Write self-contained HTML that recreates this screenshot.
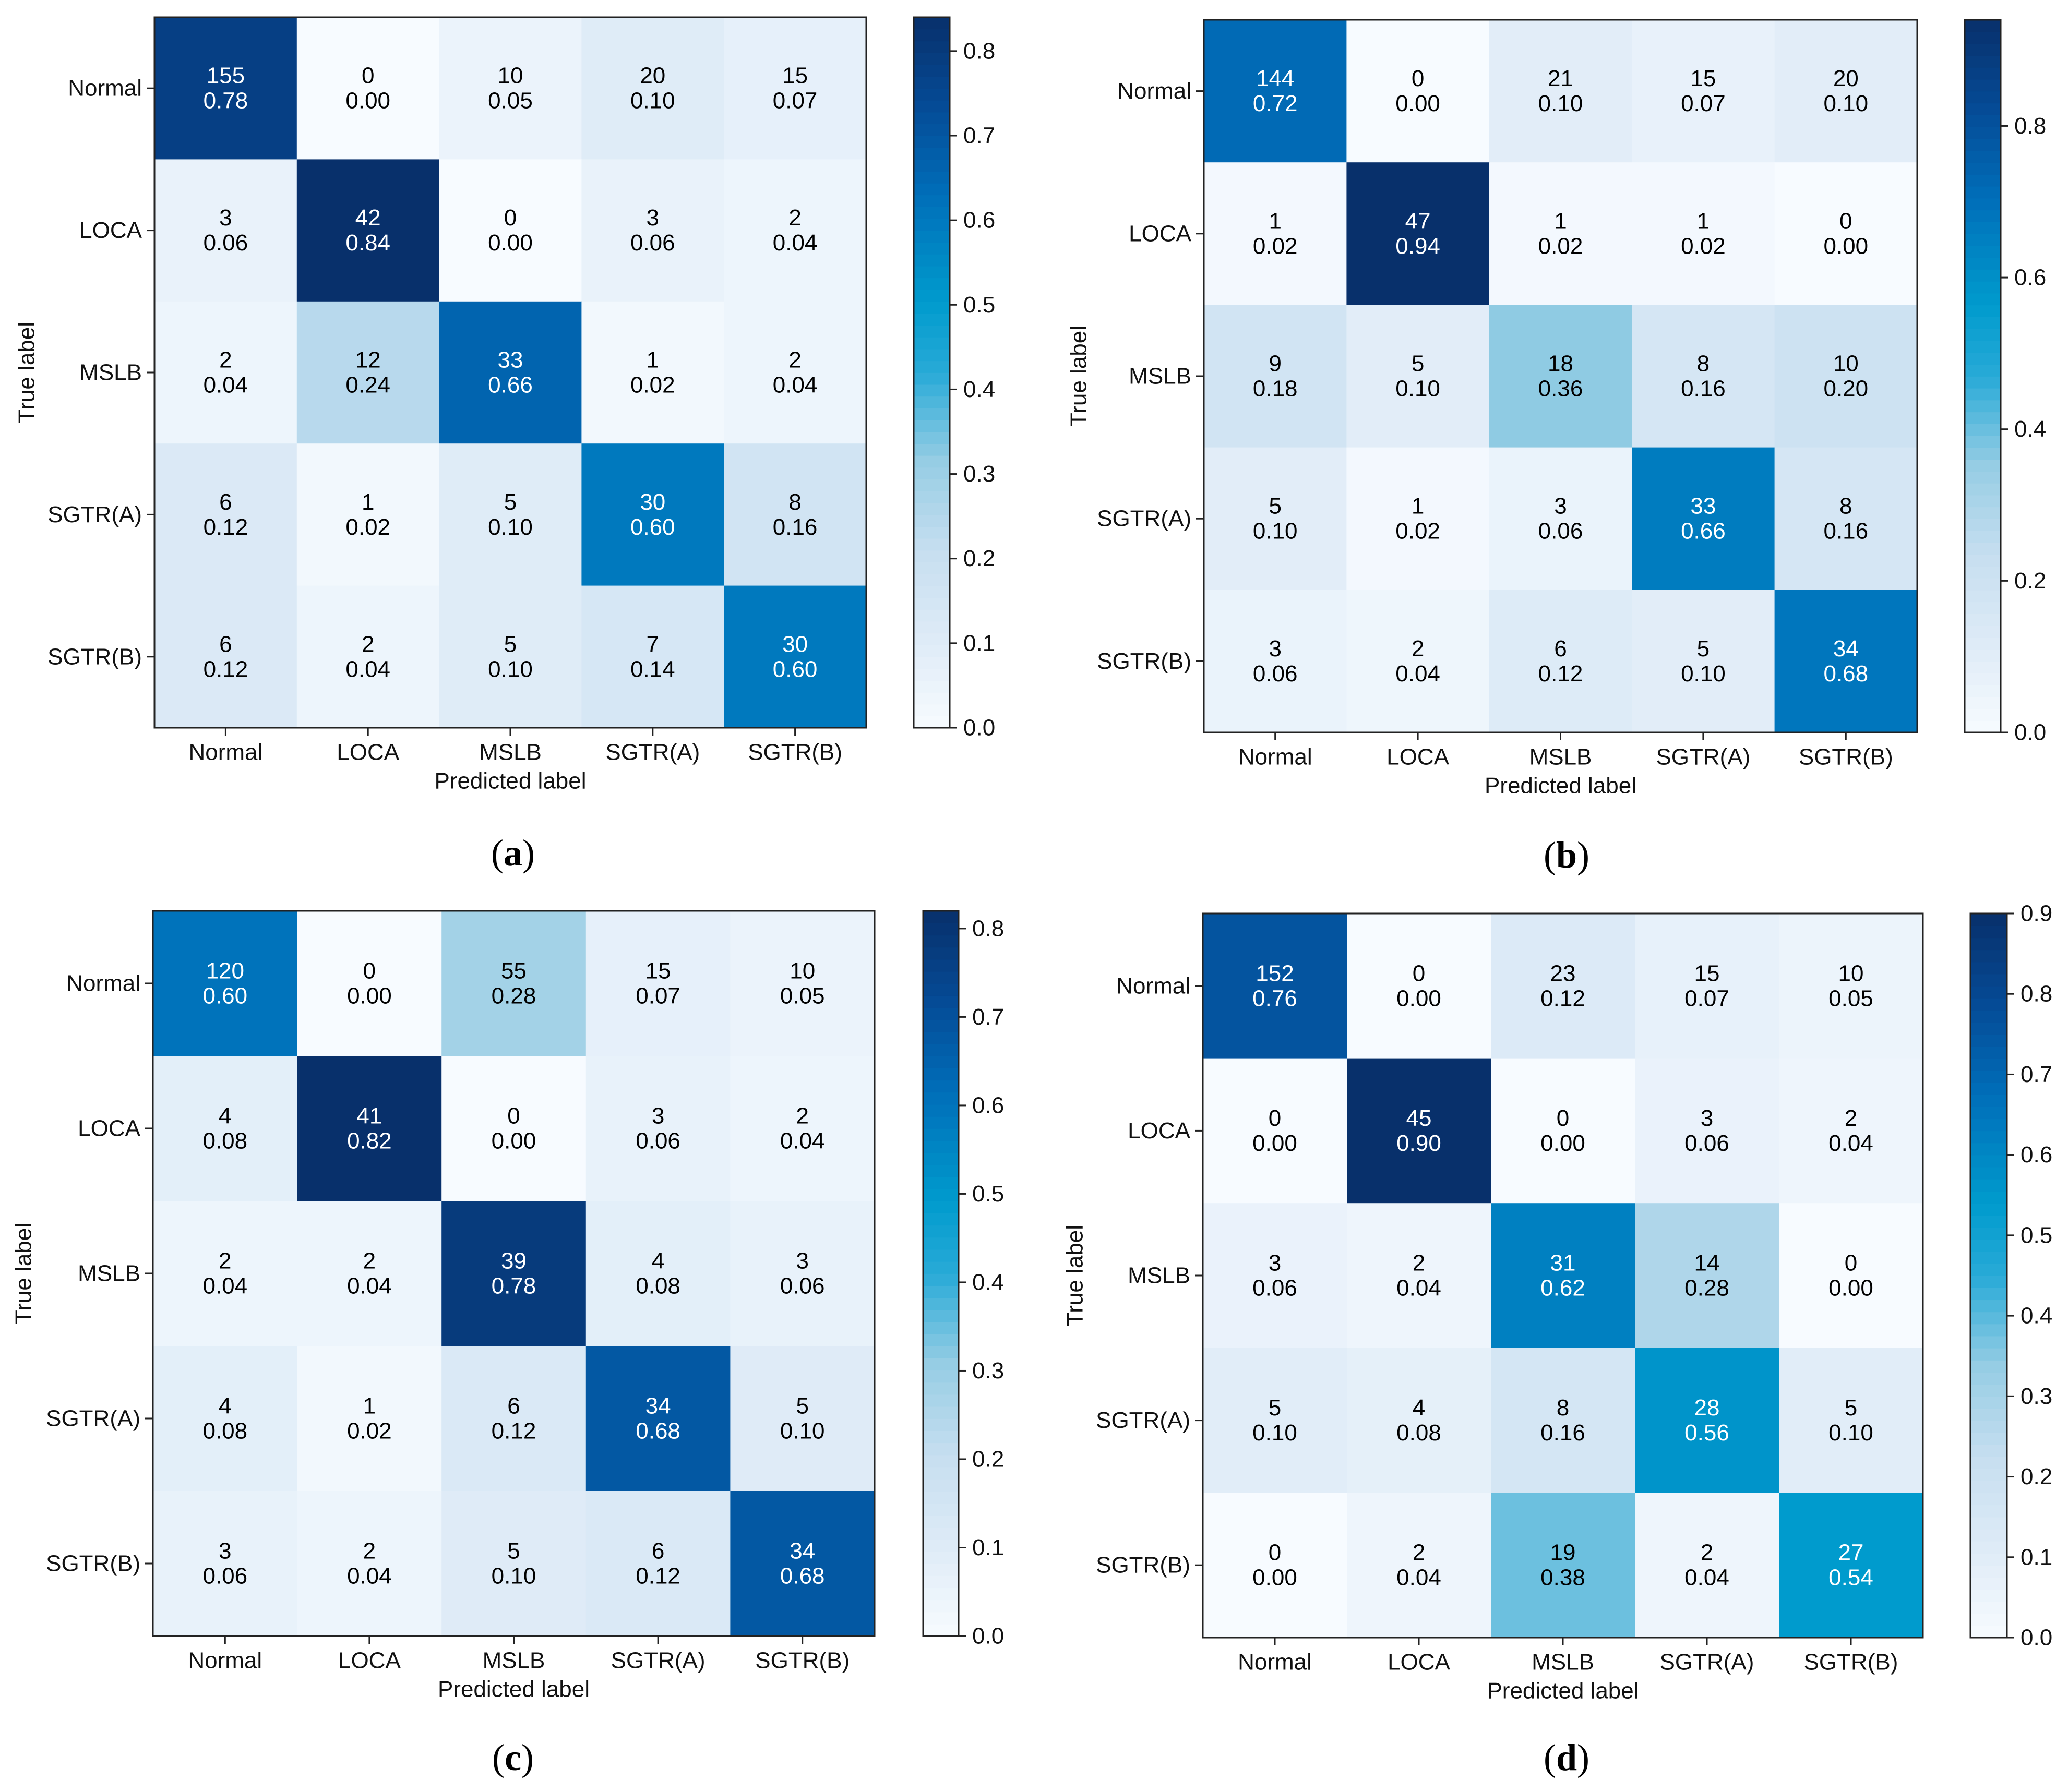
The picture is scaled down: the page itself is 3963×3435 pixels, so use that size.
<!DOCTYPE html>
<html><head><meta charset="utf-8"><style>
html,body{margin:0;padding:0;background:#fff;}
svg{display:block;}
text{font-family:"Liberation Sans","DejaVu Sans",sans-serif;}
</style></head>
<body>
<svg id="fig" width="3963" height="3435" viewBox="0 0 3963 3435" xmlns="http://www.w3.org/2000/svg"></svg>
<script>
const classes = ["Normal","LOCA","MSLB","SGTR(A)","SGTR(B)"];
const countsA = [[155,0,10,20,15],[3,42,0,3,2],[2,12,33,1,2],[6,1,5,30,8],[6,2,5,7,30]];
const fracsA  = [[0.78,0.00,0.05,0.10,0.07],[0.06,0.84,0.00,0.06,0.04],[0.04,0.24,0.66,0.02,0.04],[0.12,0.02,0.10,0.60,0.16],[0.12,0.04,0.10,0.14,0.60]];
const countsB = [[144,0,21,15,20],[1,47,1,1,0],[9,5,18,8,10],[5,1,3,33,8],[3,2,6,5,34]];
const fracsB  = [[0.72,0.00,0.10,0.07,0.10],[0.02,0.94,0.02,0.02,0.00],[0.18,0.10,0.36,0.16,0.20],[0.10,0.02,0.06,0.66,0.16],[0.06,0.04,0.12,0.10,0.68]];
const countsC = [[120,0,55,15,10],[4,41,0,3,2],[2,2,39,4,3],[4,1,6,34,5],[3,2,5,6,34]];
const fracsC  = [[0.60,0.00,0.28,0.07,0.05],[0.08,0.82,0.00,0.06,0.04],[0.04,0.04,0.78,0.08,0.06],[0.08,0.02,0.12,0.68,0.10],[0.06,0.04,0.10,0.12,0.68]];
const countsD = [[152,0,23,15,10],[0,45,0,3,2],[3,2,31,14,0],[5,4,8,28,5],[0,2,19,2,27]];
const fracsD  = [[0.76,0.00,0.12,0.07,0.05],[0.00,0.90,0.00,0.06,0.04],[0.06,0.04,0.62,0.28,0.00],[0.10,0.08,0.16,0.56,0.10],[0.00,0.04,0.38,0.04,0.54]];
const ticksA = [0,0.1,0.2,0.3,0.4,0.5,0.6,0.7,0.8];
const ticksB = [0,0.2,0.4,0.6,0.8];
const ticksC = [0,0.1,0.2,0.3,0.4,0.5,0.6,0.7,0.8];
const ticksD = [0,0.1,0.2,0.3,0.4,0.5,0.6,0.7,0.8,0.9];

const NS="http://www.w3.org/2000/svg";
const svg=document.getElementById('fig');
const stops=[[0,[247,251,255]],[0.125,[222,235,247]],[0.25,[198,222,240]],[0.375,[150,205,228]],[0.5,[40,170,215]],[0.6,[0,155,205]],[0.75,[0,110,185]],[0.875,[5,75,150]],[1,[8,48,107]]];
function cmap(t){t=Math.max(0,Math.min(1,t));for(let i=1;i<stops.length;i++){if(t<=stops[i][0]){const a=stops[i-1],b=stops[i];const f=(t-a[0])/(b[0]-a[0]);const c=a[1].map((v,k)=>Math.round(v+(b[1][k]-v)*f));return `rgb(${c[0]},${c[1]},${c[2]})`;}}return 'rgb(8,48,107)';}
function mk(tag,attrs,parent){const e=document.createElementNS(NS,tag);for(const k in attrs)e.setAttribute(k,attrs[k]);(parent||svg).appendChild(e);return e;}

function panel(id,L,R,T,B,cbL,cbR,vmax,counts,fracs,ticks,ylabX,capX,capY,letter){
  const g=mk('g',{});
  
  
  const n=classes.length, cw=(R-L)/n, ch=(B-T)/n;
  const xs=i=>L+cw*(i+0.5), ys=j=>T+ch*(j+0.5);
  for(let r=0;r<n;r++)for(let c=0;c<n;c++){
    const v=fracs[r][c];
    const rect=mk('rect',{x:L+c*cw,y:T+r*ch,width:cw+0.6,height:ch+0.6,fill:cmap(v/vmax)},g);
    
    
    const col=v>vmax/2?'#fff':'#000';
    const t1=mk('text',{x:xs(c),y:ys(r)-24,'text-anchor':'middle','dominant-baseline':'central','font-size':44,fill:col},g);
    t1.textContent=counts[r][c];
    
    
    const t2=mk('text',{x:xs(c),y:ys(r)+24,'text-anchor':'middle','dominant-baseline':'central','font-size':44,fill:col},g);
    t2.textContent=v.toFixed(2);
    
    
  }
  const fr=mk('rect',{x:L,y:T,width:R-L,height:B-T,fill:'none',stroke:'#222','stroke-width':3},g);
  
  
  for(let i=0;i<n;i++){
    mk('line',{x1:xs(i),x2:xs(i),y1:B,y2:B+15,stroke:'#222','stroke-width':3},g);
    const xl=mk('text',{x:xs(i),y:B+47,'text-anchor':'middle','dominant-baseline':'central','font-size':44,fill:'#111'},g);
    xl.textContent=classes[i];
    
    
    mk('line',{x1:L-15,x2:L,y1:ys(i),y2:ys(i),stroke:'#222','stroke-width':3},g);
    const yl=mk('text',{x:L-24,y:ys(i),'text-anchor':'end','dominant-baseline':'central','font-size':44,fill:'#111'},g);
    yl.textContent=classes[i];
    
    
  }
  const xt=mk('text',{x:(L+R)/2,y:B+102,'text-anchor':'middle','dominant-baseline':'central','font-size':44,fill:'#111'},g);
  xt.textContent='Predicted label';
  
  
  const yt=mk('text',{x:ylabX,y:(T+B)/2,'text-anchor':'middle','dominant-baseline':'central','font-size':44,fill:'#111',transform:`rotate(-90 ${ylabX} ${(T+B)/2})`},g);
  yt.textContent='True label';
  
  
  const cbs=v=>B-(B-T)*v/vmax;
  const steps=60;
  for(let k=0;k<steps;k++){
    const v0=vmax*k/steps, v1=vmax*(k+1)/steps;
    mk('rect',{x:cbL,y:cbs(v1),width:cbR-cbL,height:cbs(v0)-cbs(v1)+0.8,fill:cmap((v0+v1)/2/vmax)},g);
  }
  const cbf=mk('rect',{x:cbL,y:T,width:cbR-cbL,height:B-T,fill:'none',stroke:'#222','stroke-width':3},g);
  
  
  ticks.forEach(tv=>{
    mk('line',{x1:cbR,x2:cbR+14,y1:cbs(tv),y2:cbs(tv),stroke:'#222','stroke-width':3},g);
    const tl=mk('text',{x:cbR+26,y:cbs(tv),'dominant-baseline':'central','font-size':44,fill:'#111'},g);
    tl.textContent=tv.toFixed(1);
    
    
  });
  const cap=mk('text',{x:capX,y:capY,'text-anchor':'middle','dominant-baseline':'central','font-size':72,fill:'#000',style:'font-family:"Liberation Serif",serif'},g);
  cap.innerHTML='(<tspan font-weight="bold">'+letter+'</tspan>)';
  
  
}
panel('a',296,1660,33,1395,1751,1820,0.84,countsA,fracsA,ticksA,51,983,1635,'a');
panel('b',2307,3674,38,1404,3765,3834,0.94,countsB,fracsB,ticksB,2067,3002,1639,'b');
panel('c',293,1676,1746,3136,1769,1837,0.82,countsC,fracsC,ticksC,45,983,3369,'c');
panel('d',2305,3685,1751,3139,3776,3846,0.90,countsD,fracsD,ticksD,2060,3002,3369,'d');
</script>
</body></html>
